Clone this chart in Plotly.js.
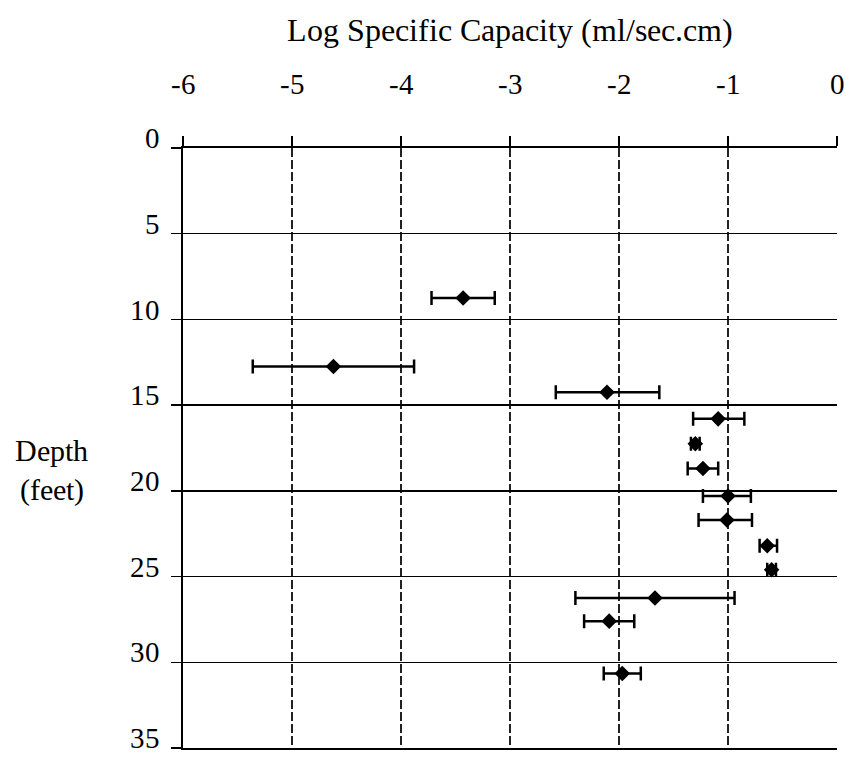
<!DOCTYPE html>
<html>
<head>
<meta charset="utf-8">
<script src="https://cdn.plot.ly/plotly-3.0.1.min.js"></script>
<style>
@font-face { font-family: 'RefSerif'; src: local('Liberation Serif'), local('LiberationSerif'), local('LiberationSerif-Regular'), local('DejaVu Serif'); }
html,body{margin:0;padding:0;background:#fff;}#chart{width:846px;height:758px;}
</style>
</head>
<body>
<div id="chart"></div>
<script>
// Log specific capacity (x) vs depth (y)
const logCapacity = [-3.43, -4.62, -2.11, -1.09, -1.30, -1.23, -1.00, -1.01, -0.64, -0.60, -1.67, -2.09, -1.97];
const depthFeet   = [8.75, 12.75, 14.25, 15.8, 17.25, 18.7, 20.3, 21.7, 23.2, 24.6, 26.25, 27.6, 30.65];
const errMinus    = [0.29, 0.74, 0.47, 0.23, 0.04, 0.14, 0.23, 0.26, 0.07, 0.04, 0.73, 0.23, 0.17];
const errPlus     = [0.29, 0.74, 0.48, 0.24, 0.04, 0.14, 0.21, 0.23, 0.09, 0.04, 0.73, 0.23, 0.17];
const xTicks = [-6, -5, -4, -3, -2, -1, 0];
const yTicks = [0, 5, 10, 15, 20, 25, 30, 35];

const font = "RefSerif, Liberation Serif, DejaVu Serif, serif";

const trace = {
  x: logCapacity,
  y: depthFeet,
  type: 'scatter',
  mode: 'markers',
  marker: {symbol: 'diamond', size: 12, color: '#000'},
  error_x: {
    type: 'data', symmetric: false,
    array: errPlus, arrayminus: errMinus,
    color: '#000', thickness: 2.5, width: 7
  },
  hoverinfo: 'x+y'
};

const layout = {
  width: 846, height: 758,
  margin: {l: 183, r: 9, t: 148, b: 10},
  paper_bgcolor: '#fff', plot_bgcolor: '#fff',
  showlegend: false,
  font: {family: font, color: '#000', size: 28},
  title: {
    text: 'Log Specific Capacity (ml/sec.cm)',
    font: {family: font, size: 32, color: '#000'},
    x: 0.5, xref: 'paper', xanchor: 'center',
    y: 1 - 30/758, yref: 'container', yanchor: 'middle'
  },
  xaxis: {
    side: 'top', range: [-6, 0],
    tickvals: xTicks, ticktext: xTicks.map(String),
    ticks: 'outside', ticklen: 10, tickwidth: 1.5, tickcolor: '#000',
    ticklabelstandoff: 30, ticklabeloverflow: 'allow',
    showline: true, linecolor: '#000', linewidth: 2, mirror: true,
    showgrid: true, gridcolor: '#222', gridwidth: 1.5, griddash: '9px,3px',
    zeroline: false,
    tickfont: {family: font, size: 29, color: '#000'}
  },
  yaxis: {
    range: [35, 0],
    tickvals: yTicks, ticktext: yTicks.map(String),
    ticks: 'outside', ticklen: 10, tickwidth: 1.5, tickcolor: '#000',
    ticklabelstandoff: 5, ticklabeloverflow: 'allow', ticklabelshift: 10,
    showline: true, linecolor: '#000', linewidth: 2, mirror: false,
    showgrid: true, gridcolor: '#000', gridwidth: 1.5,
    zeroline: false,
    tickfont: {family: font, size: 29, color: '#000'}
  },
  annotations: [{
    text: 'Depth<br>(feet)',
    xref: 'paper', yref: 'paper',
    x: (51 - 183) / 654, y: 1 - (470 - 148) / 600,
    xanchor: 'center', yanchor: 'middle',
    showarrow: false,
    font: {family: font, size: 30, color: '#000'}
  }]
};

Plotly.newPlot('chart', [trace], layout, {displayModeBar: false, staticPlot: true});
</script>
</body>
</html>
